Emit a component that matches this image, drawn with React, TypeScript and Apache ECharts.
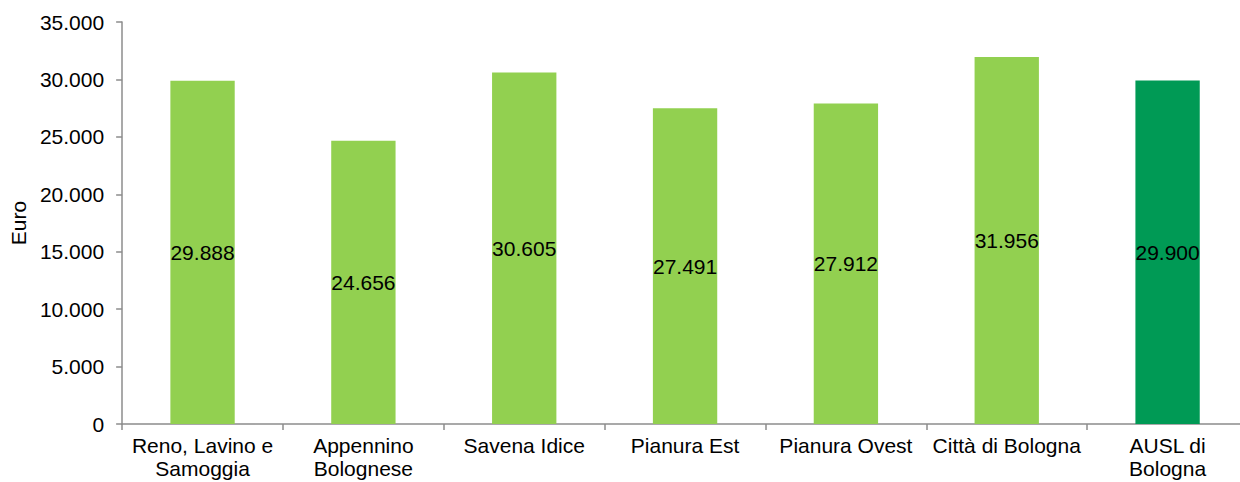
import React, { useEffect, useRef } from "react";
import * as echarts from "echarts";

const categories = [
  "Reno, Lavino e\nSamoggia",
  "Appennino\nBolognese",
  "Savena Idice",
  "Pianura Est",
  "Pianura Ovest",
  "Città di Bologna",
  "AUSL di\nBologna",
];
const values = [29888, 24656, 30605, 27491, 27912, 31956, 29900];
const barColors = ["#92D050", "#92D050", "#92D050", "#92D050", "#92D050", "#92D050", "#009A55"];

const fmt = (v: number) => {
  const s = Math.round(v).toString();
  return s.replace(/\B(?=(\d{3})+(?!\d))/g, ".");
};

export default function App() {
  const ref = useRef<HTMLDivElement>(null);
  useEffect(() => {
    if (!ref.current) return;
    const chart = echarts.init(ref.current, undefined, { renderer: "svg" });
    const font = "'Liberation Sans', Arial, sans-serif";
    chart.setOption({
      animation: false,
      grid: { left: 118, right: 2, top: 22, bottom: 58, containLabel: false },
      xAxis: {
        type: "category",
        data: categories,
        axisLine: { lineStyle: { color: "#8C8C8C", width: 1.5 } },
        axisTick: { show: true, length: 6, lineStyle: { color: "#8C8C8C", width: 1.5 } },
        axisLabel: {
          color: "#000",
          fontFamily: font,
          fontSize: 21,
          lineHeight: 23,
          margin: 10,
          interval: 0,
        },
      },
      yAxis: {
        type: "value",
        min: 0,
        max: 35000,
        interval: 5000,
        name: "Euro",
        nameLocation: "middle",
        nameGap: 92,
        nameRotate: 90,
        nameTextStyle: { color: "#000", fontFamily: font, fontSize: 21 },
        axisLine: { show: true, lineStyle: { color: "#8C8C8C", width: 1.5 } },
        axisTick: { show: true, length: 6, lineStyle: { color: "#8C8C8C", width: 1.5 } },
        splitLine: { show: false },
        axisLabel: {
          color: "#000",
          fontFamily: font,
          fontSize: 21,
          margin: 18,
          formatter: (v: number) => fmt(v),
        },
      },
      series: [
        {
          type: "bar",
          data: values.map((v, i) => ({ value: v, itemStyle: { color: barColors[i] } })),
          barWidth: "40%",
          label: {
            show: true,
            position: "inside",
            color: "#000",
            fontFamily: font,
            fontSize: 21,
            formatter: (p: any) => fmt(p.value),
          },
        },
      ],
    });
    return () => chart.dispose();
  }, []);
  return (
    <div
      ref={ref}
      style={{ position: "absolute", left: 0, top: 0, width: 1250, height: 482, background: "#fff" }}
    />
  );
}
